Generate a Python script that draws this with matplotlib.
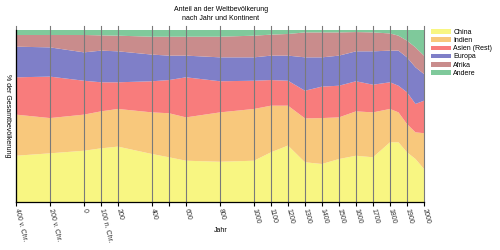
import matplotlib
matplotlib.use("Agg")
import matplotlib.pyplot as plt
from matplotlib.patches import Patch

plt.rcParams['font.family'] = ['Liberation Sans', 'DejaVu Sans']

jahre = [-400, -200, 0, 100, 200, 400, 500, 600, 800, 1000, 1100, 1200, 1300,
         1400, 1500, 1600, 1700, 1800, 1850, 1900, 1950, 2000]

# Anteile in Prozent
china = [26.9, 28.3, 29.8, 31.2, 32.2, 27.9, 26.0, 24.0, 23.4, 24.0, 28.9, 32.8, 23.1,
         22.1, 25.0, 26.9, 26.0, 34.7, 34.7, 28.9, 25.0, 19.2]
indien = [23.9, 20.5, 21.0, 21.5, 21.9, 24.2, 25.6, 25.2, 28.7, 30.1, 27.1, 23.2, 25.5,
          26.7, 24.2, 25.8, 26.1, 19.4, 17.4, 16.4, 15.5, 20.8]
asien = [21.7, 24.1, 19.7, 16.9, 15.5, 18.1, 19.3, 23.3, 18.1, 16.4, 14.9, 14.5, 16.1,
         18.3, 18.4, 17.5, 16.1, 15.5, 15.5, 18.5, 16.5, 18.9]
europa = [17.8, 17.0, 16.5, 18.4, 18.0, 15.5, 14.2, 12.6, 13.9, 13.6, 14.2, 14.6, 19.4,
          17.0, 17.5, 17.4, 19.4, 18.4, 20.4, 20.3, 21.3, 15.5]
afrika = [6.8, 7.2, 10.1, 8.9, 9.1, 10.4, 11.0, 11.0, 12.0, 12.6, 12.2, 12.6, 14.5,
          14.5, 13.5, 11.2, 11.0, 10.0, 8.7, 9.7, 11.6, 10.7]
andere = [2.9, 2.9, 2.9, 3.1, 3.3, 3.9, 3.9, 3.9, 3.9, 3.3, 2.7, 2.3, 1.4,
          1.4, 1.4, 1.2, 1.4, 2.0, 3.3, 6.2, 10.1, 14.9]

namen = ["China", "Indien", "Asien (Rest)", "Europa", "Afrika", "Andere"]
farben = ["#f8f682", "#f8c87c", "#f87c7c", "#7f7fc8", "#c98c8c", "#7fc99b"]

ticks = [-400, -200, 0, 100, 200, 400, 500, 600, 800, 1000, 1100, 1200, 1300,
         1400, 1500, 1600, 1700, 1800, 1900, 2000]
ticklabels = ["400 v. Chr.", "200 v. Chr.", "0", "100 n. Chr.", "200", "400", "",
              "600", "800", "1000", "1100", "1200", "1300", "1400", "1500", "1600",
              "1700", "1800", "1900", "2000"]

fig = plt.figure(figsize=(5, 2.5), dpi=100)
ax = fig.add_axes([0.032, 0.192, 0.816, 0.688])

ax.stackplot(jahre, china, indien, asien, europa, afrika, andere,
             colors=farben, linewidth=0)
ax.set_xlim(-400, 2000)
ax.set_ylim(0, 100)

for t in ticks:
    ax.axvline(t, ymin=0, ymax=1.025, color="#7a7a7a", lw=0.8, clip_on=False)

ax.set_xticks(ticks)
ax.set_xticklabels(ticklabels, rotation=-76, ha="left", va="center",
                   rotation_mode="anchor", fontsize=5, color="#333333")
ax.tick_params(axis="x", length=3, width=0.8, pad=2)
ax.set_yticks([])
for s in ["top", "right"]:
    ax.spines[s].set_visible(False)
ax.spines["bottom"].set_linewidth(0.9)
ax.spines["left"].set_linewidth(0.9)

fig.text(0.442, 0.975, "Anteil an der Weltbevölkerung\nnach Jahr und Kontinent",
         ha="center", va="top", fontsize=5, linespacing=1.25)
fig.text(0.442, 0.076, "Jahr", ha="center", va="center", fontsize=5)
fig.text(0.014, 0.536, "% der Gesamtbevölkerung", ha="center", va="center",
         rotation=270, fontsize=5)

handles = [Patch(facecolor=c, edgecolor="none") for c in farben]
fig.legend(handles, namen, loc="upper left", bbox_to_anchor=(0.862, 0.885),
           fontsize=5, frameon=False, handlelength=2.9, handleheight=0.6,
           labelspacing=0.18, handletextpad=0.3, borderaxespad=0, borderpad=0)

fig.savefig("out.png", dpi=100)
